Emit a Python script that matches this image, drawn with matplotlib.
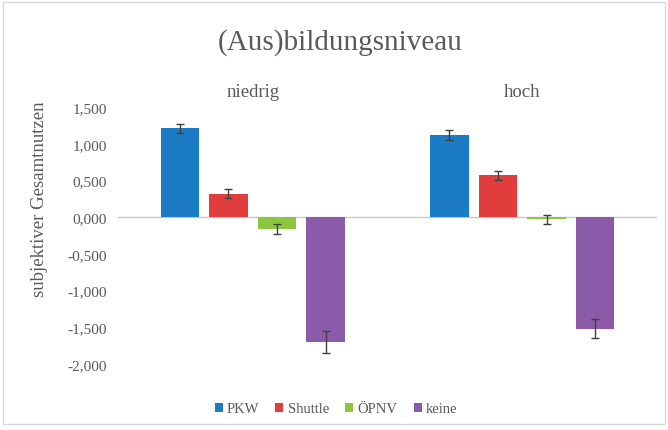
import matplotlib
matplotlib.use("Agg")
import matplotlib.pyplot as plt
import matplotlib.transforms as mtransforms
from matplotlib.patches import Rectangle
import numpy as np

groups = ["niedrig", "hoch"]
series = ["PKW", "Shuttle", "ÖPNV", "keine"]
values = {
    "PKW": [1.21, 1.12],
    "Shuttle": [0.32, 0.57],
    "ÖPNV": [-0.16, -0.03],
    "keine": [-1.70, -1.52],
}
errors = {
    "PKW": [0.06, 0.07],
    "Shuttle": [0.06, 0.06],
    "ÖPNV": [0.07, 0.06],
    "keine": [0.15, 0.13],
}
colors = {"PKW": "#1B7BC4", "Shuttle": "#E23D3D", "ÖPNV": "#8CC63F", "keine": "#8B5BA9"}
yticks = [1.5, 1.0, 0.5, 0.0, -0.5, -1.0, -1.5, -2.0]
ytick_labels = ["1,500", "1,000", "0,500", "0,000", "-0,500", "-1,000", "-1,500", "-2,000"]

plt.rcParams["font.family"] = ["Liberation Serif", "DejaVu Serif"]
text_color = "#595959"

fig = plt.figure(figsize=(6.68, 4.31), dpi=100)
ax = fig.add_axes([118/668, 66/431, 539/668, 257/431])

x = np.arange(len(groups))
step = 0.18
width = 0.143
offsets = [-1.5*step, -0.5*step, 0.5*step, 1.5*step]
handles = []
for s, off in zip(series, offsets):
    b = ax.bar(x + off, values[s], width, color=colors[s], label=s, zorder=2)
    ax.errorbar(x + off, values[s], yerr=errors[s], fmt="none", ecolor="#404040",
                elinewidth=1.0, capsize=3, capthick=1.0, zorder=3)
    handles.append(b)

ax.axhline(0, color="#C8C8C8", linewidth=1.0, zorder=1)
ax.set_xlim(-0.5, 1.5)
ax.set_ylim(-2.0, 1.5)
ax.set_yticks(yticks)
ax.set_yticklabels(ytick_labels)
ax.set_xticks([])
ax.tick_params(axis="y", length=0, pad=8, labelsize=11, labelcolor=text_color)
for sp in ax.spines.values():
    sp.set_visible(False)

trans = mtransforms.blended_transform_factory(ax.transData, ax.transAxes)
for xi, g in zip(x, groups):
    ax.text(xi, 1.062, g, transform=trans, ha="center", va="center",
            fontsize=13.5, color=text_color)

fig.text(40/668, 1 - 199/431, "subjektiver Gesamtnutzen", rotation=90, ha="center", va="center",
         fontsize=13.5, color=text_color)

fig.text(340/668, 1 - 43/431, "(Aus)bildungsniveau", ha="center", va="center",
         fontsize=21, color=text_color)

leg = fig.legend(handles=handles, labels=series, loc="center", bbox_to_anchor=(336/668, 1 - 410/431),
                 ncol=4, frameon=False, fontsize=10.5, handlelength=0.55, handleheight=0.55,
                 handletextpad=0.3, columnspacing=1.1, labelcolor=text_color)

fig.patches.append(Rectangle((3/668, 6/431), 662/668, 422/431, transform=fig.transFigure,
                             fill=False, edgecolor="#D9D9D9", linewidth=1.0))

fig.savefig("out.png", dpi=100)
